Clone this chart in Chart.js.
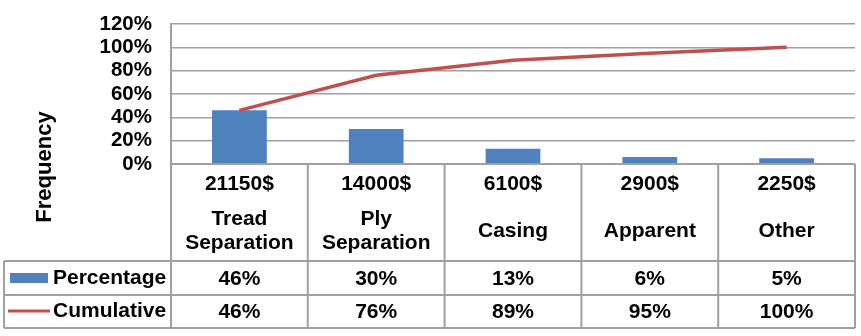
<!DOCTYPE html>
<html>
<head>
<meta charset="utf-8">
<script src="https://cdn.jsdelivr.net/npm/chart.js@4.4.0/dist/chart.umd.min.js"></script>
<style>
  html, body { margin: 0; padding: 0; background: #fff; }
  #wrap { width: 861px; height: 336px; }
</style>
</head>
<body>
<div id="wrap"><canvas id="paretoChart" width="861" height="336"></canvas></div>
<script>
// Pareto data
const costs = ['21150$', '14000$', '6100$', '2900$', '2250$'];
const causes = [['Tread', 'Separation'], ['Ply', 'Separation'], ['Casing'], ['Apparent'], ['Other']];
const percentage = [46, 30, 13, 6, 5];
const cumulative = [46, 76, 89, 95, 100];
const yTicks = [0, 20, 40, 60, 80, 100, 120];

const BLUE = '#4f81bd';
const RED = '#c0504d';
const GRID = '#a0a0a0';
const FONT = '"Liberation Sans", Arial, sans-serif';

// draws the data table under the plot + the axis title
const tablePlugin = {
    id: 'dataTable',
    afterDraw(chart) {
        const ctx = chart.ctx;
        const area = chart.chartArea;
        const n = costs.length;
        const colW = (area.right - area.left) / n;
        const headBottom = 261, row1 = 295, row2 = 328, tableLeft = 4;

        ctx.save();
        ctx.strokeStyle = GRID;
        ctx.lineWidth = 2;
        ctx.beginPath();
        // vertical lines
        for (let i = 0; i <= n; i++) {
            const x = area.left + i * colW;
            ctx.moveTo(x, area.bottom);
            ctx.lineTo(x, row2);
        }
        ctx.moveTo(tableLeft, headBottom);
        ctx.lineTo(tableLeft, row2);
        // horizontal lines
        ctx.moveTo(area.left, area.bottom);
        ctx.lineTo(area.right, area.bottom);
        [headBottom, row1, row2].forEach(y => {
            ctx.moveTo(tableLeft, y);
            ctx.lineTo(area.right, y);
        });
        ctx.stroke();

        ctx.fillStyle = '#000';
        ctx.font = 'bold 21px ' + FONT;
        ctx.textAlign = 'center';
        ctx.textBaseline = 'middle';
        for (let i = 0; i < n; i++) {
            const cx = chart.scales.x.getPixelForValue(i);
            ctx.fillText(costs[i], cx, 184);
            const lines = causes[i];
            if (lines.length === 1) {
                ctx.fillText(lines[0], cx, 231);
            } else {
                ctx.fillText(lines[0], cx, 219);
                ctx.fillText(lines[1], cx, 243);
            }
            ctx.fillText(percentage[i] + '%', cx, 279);
            ctx.fillText(cumulative[i] + '%', cx, 312);
        }

        // legend keys
        ctx.fillStyle = BLUE;
        ctx.fillRect(10, 273, 38, 10);
        ctx.strokeStyle = RED;
        ctx.lineWidth = 3;
        ctx.beginPath();
        ctx.moveTo(8, 311);
        ctx.lineTo(50, 311);
        ctx.stroke();
        ctx.fillStyle = '#000';
        ctx.textAlign = 'left';
        ctx.fillText('Percentage', 53, 278);
        ctx.fillText('Cumulative', 53, 311);

        // y title
        ctx.font = 'bold 22px ' + FONT;
        ctx.translate(45, 167);
        ctx.rotate(-Math.PI / 2);
        ctx.textAlign = 'center';
        ctx.fillText('Frequency', 0, 0);
        ctx.restore();
    }
};

const ctx = document.getElementById('paretoChart').getContext('2d');
new Chart(ctx, {
    type: 'bar',
    data: {
        labels: costs,
        datasets: [{
            type: 'line',
            label: 'Cumulative',
            data: cumulative,
            borderColor: RED,
            borderWidth: 3.5,
            pointRadius: 0,
            tension: 0,
            order: 0
        }, {
            label: 'Percentage',
            data: percentage,
            backgroundColor: BLUE,
            barPercentage: 0.4,
            categoryPercentage: 1,
            order: 1
        }]
    },
    options: {
        responsive: false,
        animation: false,
        layout: { padding: { top: 24, right: 6, bottom: 172, left: 0 } },
        plugins: {
            legend: { display: false },
            tooltip: { enabled: false }
        },
        scales: {
            x: { display: false },
            y: {
                min: 0,
                max: 120,
                afterBuildTicks: scale => { scale.ticks = yTicks.map(v => ({ value: v })); },
                afterFit: scale => {
                    scale.width = 171;
                    scale.paddingTop = 0;
                    scale.paddingBottom = 0;
                },
                ticks: {
                    autoSkip: false,
                    padding: 19,
                    color: '#000',
                    font: { family: FONT, size: 20.5, weight: 'bold' },
                    callback: v => v + '%'
                },
                grid: { color: GRID, lineWidth: 1.5, drawTicks: false },
                border: { display: true, color: GRID, width: 2 }
            }
        }
    },
    plugins: [tablePlugin]
});
</script>
</body>
</html>
